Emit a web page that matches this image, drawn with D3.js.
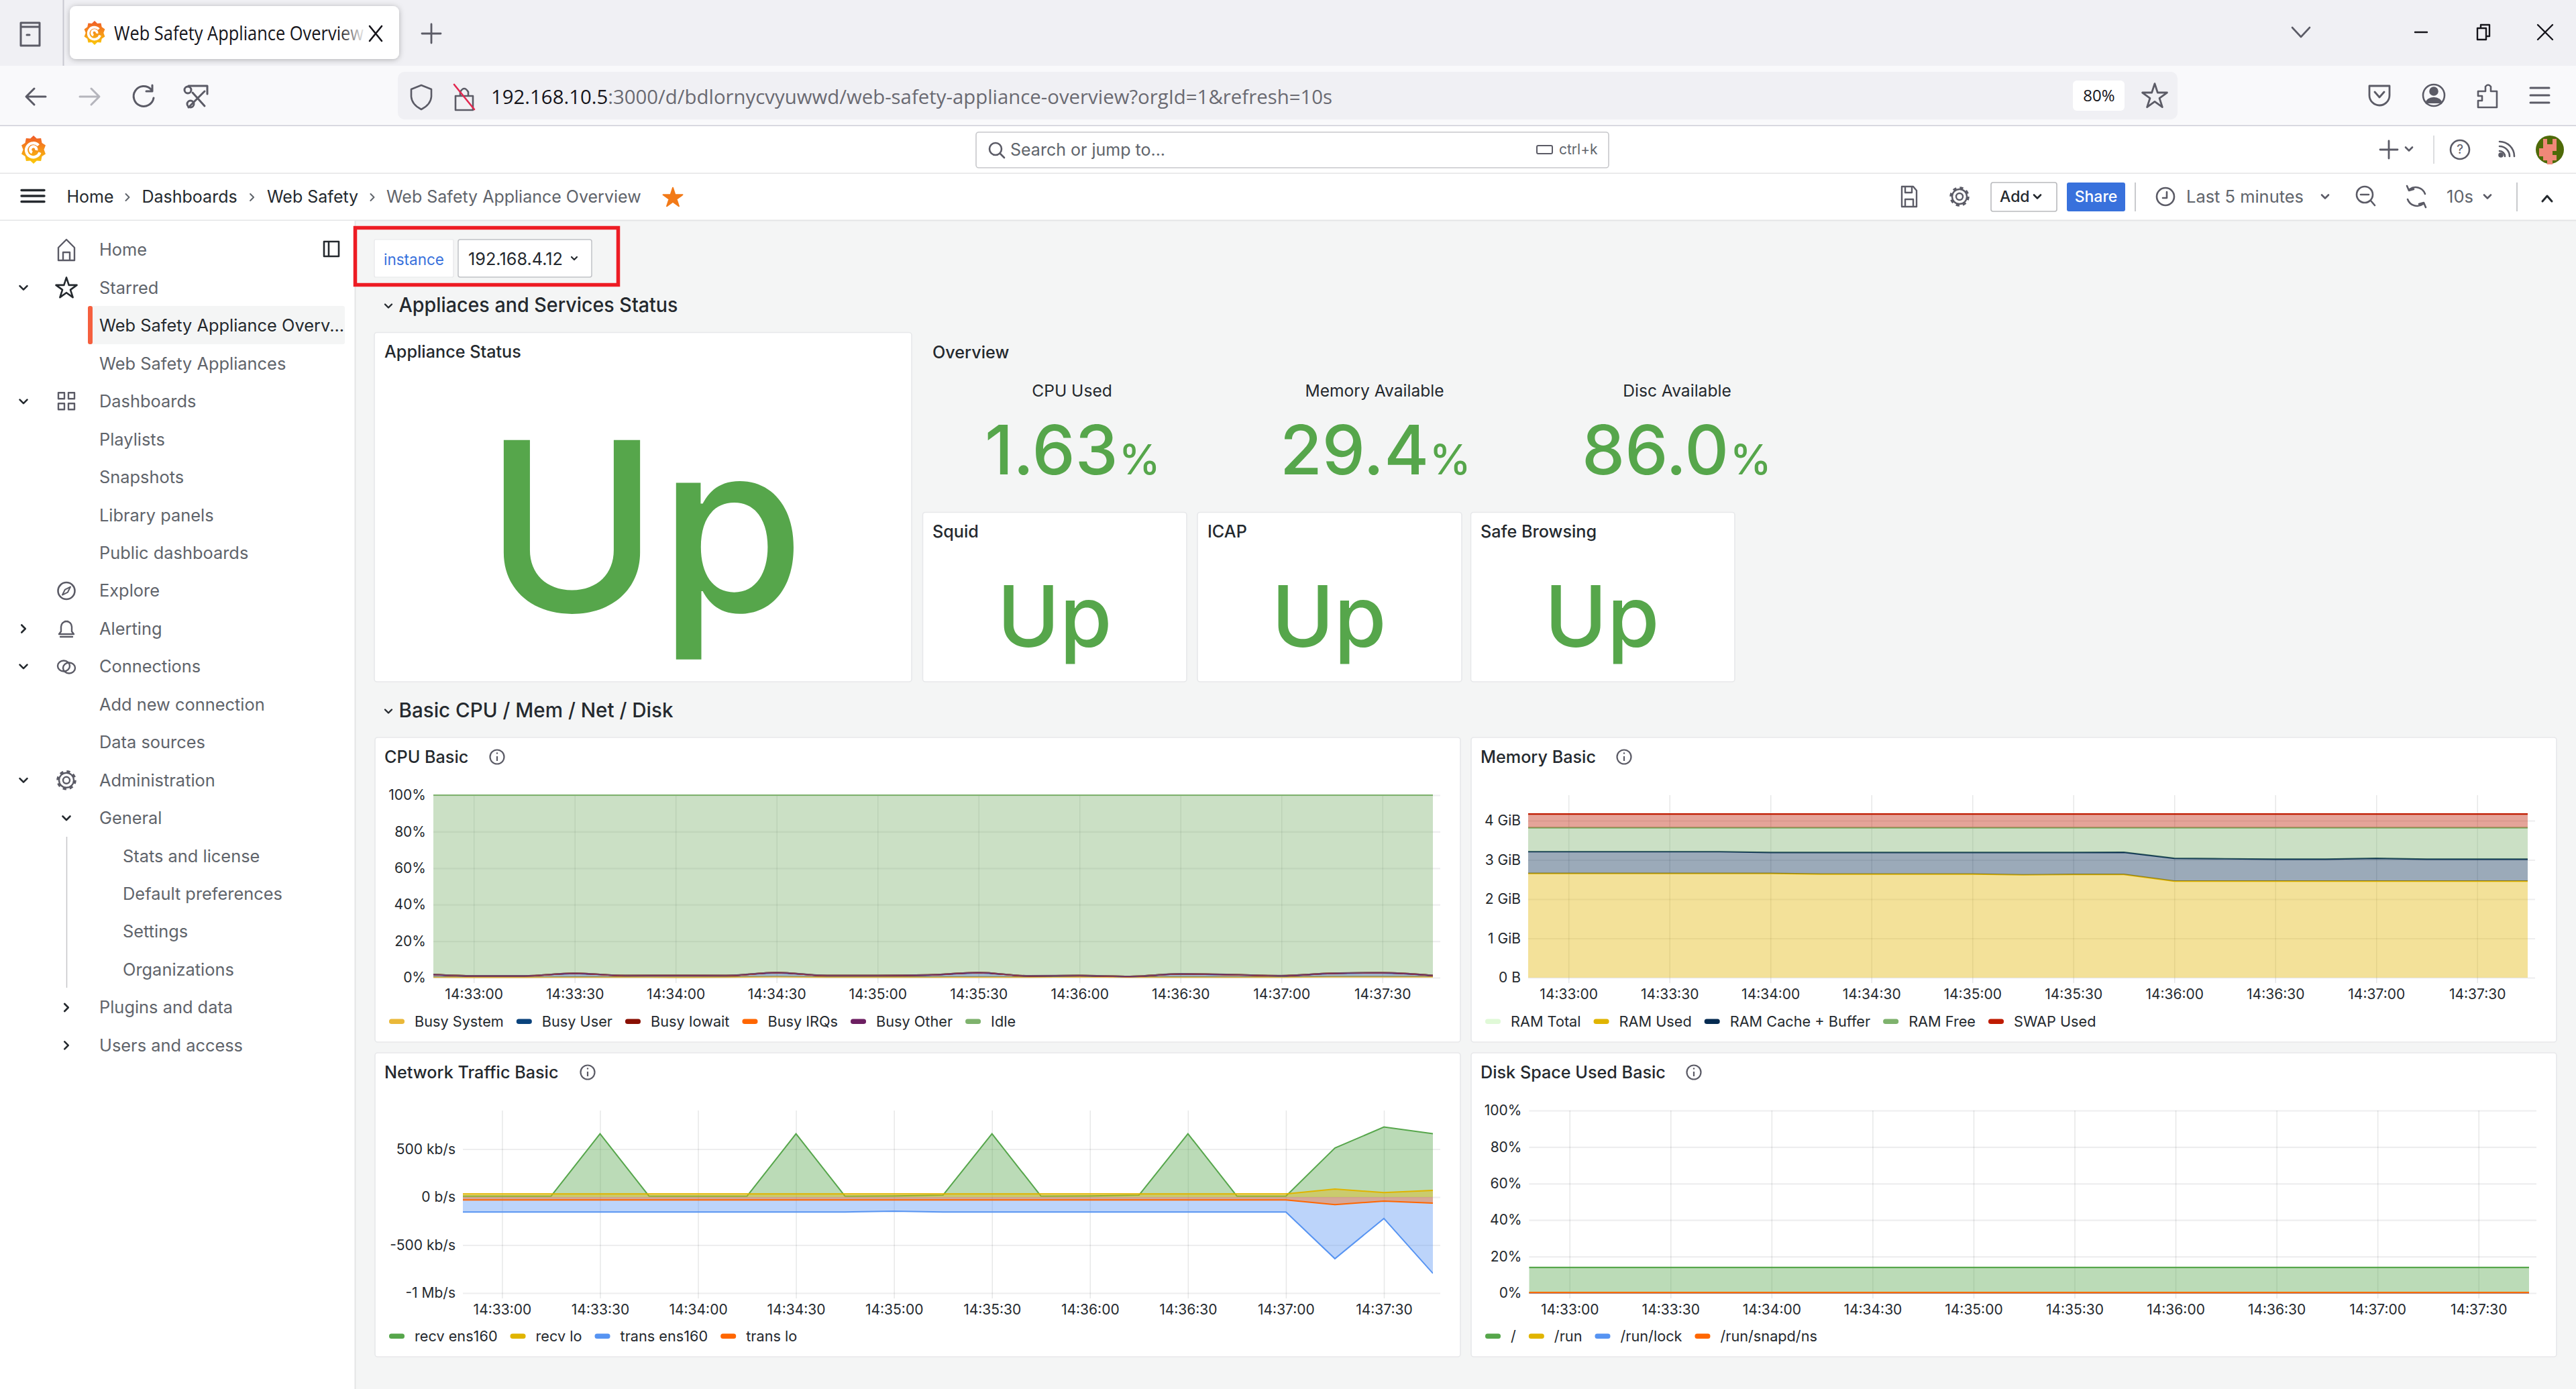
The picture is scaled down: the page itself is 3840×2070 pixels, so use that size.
<!DOCTYPE html>
<html><head><meta charset="utf-8">
<script src="https://cdnjs.cloudflare.com/ajax/libs/d3/7.8.5/d3.min.js"></script>
<style>html,body{margin:0;padding:0;background:#f4f5f5;overflow:hidden}svg{display:block}</style>
</head><body><svg id="c" width="3840" height="2070" viewBox="0 0 3840 2070"></svg>
<script>
// ---------- DATA ----------
const sampleTimes = ["14:32:45","14:33:00","14:33:15","14:33:30","14:33:45","14:34:00","14:34:15","14:34:30","14:34:45","14:35:00","14:35:15","14:35:30","14:35:45","14:36:00","14:36:15","14:36:30","14:36:45","14:37:00","14:37:15","14:37:30","14:37:45"];
const tickLabels = ["14:33:00","14:33:30","14:34:00","14:34:30","14:35:00","14:35:30","14:36:00","14:36:30","14:37:00","14:37:30"];
const domainStart = "14:32:48", domainEnd = "14:37:45";

const cpuSystem = [.3,.25,.25,.3,.3,.25,.3,.55,.3,.3,.3,.35,.3,.45,.3,.3,.3,.3,.5,.5,.5];
const cpuUser   = [1.7,.7,.7,2.04,.84,.9,.84,2.19,.84,.84,1.14,2.39,.64,.69,.34,1.74,1.34,.74,1.84,2.14,.64];
const cpuIowait = [.06,.06,.06,.06,.06,.06,.06,.06,.06,.06,.06,.06,.06,.06,.06,.06,.06,.06,.06,.06,.06];
const cpuIrq    = [.01,.01,.01,.01,.01,.01,.01,.01,.01,.01,.01,.01,.01,.01,.01,.01,.01,.01,.01,.01,.01];
const cpuOther  = [.03,.03,.03,.03,.03,.03,.03,.03,.03,.03,.03,.03,.03,.03,.03,.03,.03,.03,.03,.03,.03];
const cpuIdle   = [97.9,98.95,98.95,97.56,98.76,98.75,98.76,97.16,98.76,98.76,98.46,97.16,98.96,98.76,99.26,97.86,98.26,98.86,97.56,97.26,98.76];
const cpuNames  = ["Busy System","Busy User","Busy Iowait","Busy IRQs","Busy Other","Idle"];
const cpuColors = ["#EAB839","#0A437C","#890F02","#FF6600","#6D1F62","#7EB26D"];
const cpuTicks  = [0,20,40,60,80,100];

const memTotal = [3.82,3.82,3.82,3.82,3.82,3.82,3.82,3.82,3.82,3.82,3.82,3.82,3.82,3.82,3.82,3.82,3.82,3.82,3.82,3.82,3.82];
const memUsed  = [2.655,2.655,2.655,2.655,2.655,2.655,2.64,2.64,2.64,2.64,2.62,2.63,2.63,2.46,2.46,2.46,2.46,2.46,2.46,2.46,2.46];
const memCache = [.555,.555,.555,.555,.555,.535,.55,.55,.55,.55,.57,.56,.565,.58,.57,.56,.56,.58,.56,.56,.56];
const memFree  = [.61,.61,.61,.61,.61,.63,.63,.63,.63,.63,.63,.63,.625,.78,.79,.80,.80,.78,.80,.80,.80];
const memSwap  = [.35,.35,.35,.35,.35,.35,.35,.35,.35,.35,.35,.35,.35,.35,.35,.35,.35,.35,.35,.35,.35];
const memNames = ["RAM Total","RAM Used","RAM Cache + Buffer","RAM Free","SWAP Used"];
const memColors= ["#E0F9D7","#E0B400","#052B51","#7EB26D","#BF1B00"];
const memTicks = [0,1,2,3,4];
const memTickLabels = ["0 B","1 GiB","2 GiB","3 GiB","4 GiB"];

const netRecvEns = [10,10,10,660,10,10,10,660,10,12,20,660,10,12,20,660,10,10,512,730,660];
const netRecvLo  = [33,33,33,33,33,33,33,33,33,33,33,33,33,33,33,33,33,33,84,47,70];
const netTransEns= [-156,-156,-156,-156,-156,-156,-156,-156,-156,-147,-156,-156,-156,-156,-156,-156,-156,-156,-642,-223,-795];
const netTransLo = [-30,-30,-30,-30,-30,-30,-30,-30,-30,-30,-30,-30,-30,-30,-30,-30,-30,-30,-79,-42,-63];
const netNames   = ["recv ens160","recv lo","trans ens160","trans lo"];
const netColors  = ["#56A64B","#E0B400","#5794F2","#FF6600"];
const netTicks   = [-1000,-500,0,500];
const netTickLabels = ["-1 Mb/s","-500 kb/s","0 b/s","500 kb/s"];

const diskRoot = [14.05,14.05,14.05,14.05,14.05,14.05,14.05,14.05,14.05,14.05,14.05,14.05,14.05,14.05,14.05,14.05,14.05,14.05,14.05,14.05,14.05];
const diskRun  = [.2,.2,.2,.2,.2,.2,.2,.2,.2,.2,.2,.2,.2,.2,.2,.2,.2,.2,.2,.2,.2];
const diskLock = [0,0,0,0,0,0,0,0,0,0,0,0,0,0,0,0,0,0,0,0,0];
const diskSnap = [.25,.25,.25,.25,.25,.25,.25,.25,.25,.25,.25,.25,.25,.25,.25,.25,.25,.25,.25,.25,.25];
const diskNames = ["/","/run","/run/lock","/run/snapd/ns"];
const diskColors= ["#56A64B","#E0B400","#5794F2","#FF6600"];

const statLabels = ["CPU Used","Memory Available","Disc Available"];
const statValues = ["1.63","29.4","86.0"];
const serviceNames = ["Squid","ICAP","Safe Browsing"];
const navItems = ["Home","Starred","Web Safety Appliance Overv...","Web Safety Appliances","Dashboards","Playlists","Snapshots","Library panels","Public dashboards","Explore","Alerting","Connections","Add new connection","Data sources","Administration","General","Stats and license","Default preferences","Settings","Organizations","Plugins and data","Users and access"];
const crumbs = ["Home","Dashboards","Web Safety","Web Safety Appliance Overview"];

// ---------- HELPERS ----------
const svg = d3.select("#c");
const defs = svg.append("defs");
const INTER = "Inter, sans-serif", CHROME = "'Open Sans', sans-serif";
const DARK = "#24292e", GRAY = "#5f646b", ICON = "#5b5b66", GREEN = "#56a64b";
function rect(x,y,w,h,fill,o={}){const r=svg.append("rect").attr("x",x).attr("y",y).attr("width",w).attr("height",h).attr("fill",fill).attr("rx",o.rx||0);
  if(o.stroke)r.attr("stroke",o.stroke).attr("stroke-width",o.sw||1.5); if(o.filter)r.attr("filter",o.filter); return r;}
function txt(x,y,s,o={}){const t=svg.append("text").attr("x",x).attr("y",y).text(s).attr("dy",".35em")
  .attr("font-family",o.family||INTER).attr("font-size",o.size||27).attr("font-weight",o.weight||400).attr("fill",o.fill||DARK).attr("text-anchor",o.anchor||"start");
  if(o.len)t.attr("textLength",o.len).attr("lengthAdjust","spacingAndGlyphs"); return t;}
function line(x1,y1,x2,y2,c,w){svg.append("line").attr("x1",x1).attr("y1",y1).attr("x2",x2).attr("y2",y2).attr("stroke",c).attr("stroke-width",w||2);}
function ic(x,y,d,o={}){return svg.append("path").attr("transform",`translate(${x},${y})`).attr("d",d).attr("fill",o.fill||"none").attr("stroke",o.stroke===undefined?ICON:o.stroke).attr("stroke-width",o.sw||2.6).attr("stroke-linecap","round").attr("stroke-linejoin","round");}
function circ(x,y,r,o={}){return svg.append("circle").attr("cx",x).attr("cy",y).attr("r",r).attr("fill",o.fill||"none").attr("stroke",o.stroke===undefined?ICON:o.stroke).attr("stroke-width",o.sw||2.6);}
const chevD=(x,y,s=6,o={})=>ic(x,y,`M${-s} ${-s/2}L0 ${s/2}L${s} ${-s/2}`,o);
const chevR=(x,y,s=6,o={})=>ic(x,y,`M${-s/2} ${-s}L${s/2} 0L${-s/2} ${s}`,o);
const starPath=(size)=>d3.symbol().type(d3.symbolStar).size(size)();
function gear(x,y,c=ICON){circ(x,y,5,{stroke:c,sw:2.4});circ(x,y,11,{stroke:c,sw:2.4});svg.append("circle").attr("cx",x).attr("cy",y).attr("r",13).attr("fill","none").attr("stroke",c).attr("stroke-width",3.5).attr("stroke-dasharray","5.2 5");}
function logo(x,y,s){
  const id="lg"+Math.round(x);
  const g=defs.append("linearGradient").attr("id",id).attr("x1",0).attr("y1",0).attr("x2",0).attr("y2",1);
  g.append("stop").attr("offset",0).attr("stop-color","#f05a28");g.append("stop").attr("offset",1).attr("stop-color","#fbca0a");
  const n=10,pts=d3.range(n*2).map(i=>{const a=Math.PI*i/n,r=(i%2?s*.82:s)*1;return [x+Math.sin(a)*r*.9,y-Math.cos(a)*r];});
  svg.append("path").attr("d",d3.line().curve(d3.curveLinearClosed)(pts)).attr("fill",`url(#${id})`);
  svg.append("path").attr("d",`M${x+s*.35} ${y-s*.3}A${s*.5} ${s*.5} 0 1 0 ${x+s*.45} ${y+s*.2}M${x+s*.2} ${y+s*.05}A${s*.22} ${s*.22} 0 1 0 ${x-s*.1} ${y+s*.2}`).attr("fill","none").attr("stroke","#fff").attr("stroke-width",s*.2);
}

// ---------- BROWSER CHROME ----------
rect(0,0,3840,98,"#f0f0f4");
rect(0,98,3840,90,"#f9f9fb");
line(0,187.5,3840,187.5,"#cfcfd8",2);
line(94.5,0,94.5,98,"#c8c8d0",2);
ic(45,50,"M-14 -10H14V18H-14ZM-14 -10V-16H14V-10M-5 2H-1",{sw:3});
defs.append("filter").attr("id","sh").append("feDropShadow").attr("dx",0).attr("dy",1).attr("stdDeviation",4).attr("flood-color","#000").attr("flood-opacity",.28);
rect(104,9,491,79,"#fff",{rx:9,filter:"url(#sh)"});
logo(141,49,18);
const fade=defs.append("linearGradient").attr("id","fade").attr("gradientUnits","userSpaceOnUse").attr("x1",170).attr("x2",542).attr("y1",0).attr("y2",0);
fade.append("stop").attr("offset",0.9).attr("stop-color","#15141a");fade.append("stop").attr("offset",1).attr("stop-color","#15141a").attr("stop-opacity",0.1);
txt(170,50,"Web Safety Appliance Overview",{family:CHROME,size:29,fill:"url(#fade)",len:372});
ic(560,50,"M-9 -11L9 11M9 -11L-9 11",{stroke:"#15141a",sw:2.6});
ic(643,50,"M0 -14V14M-14 0H14",{sw:2.8});
ic(3430,48,"M-13 -7L0 7L13 -7",{sw:2.6});
ic(3609,48,"M-9 0H9",{stroke:"#15141a",sw:2.4});
ic(3702,48,"M-9 -6H4V11H-9ZM-4 -6V-11H9V6H4",{stroke:"#15141a",sw:2.4});
ic(3794,48,"M-11 -11L11 11M11 -11L-11 11",{stroke:"#15141a",sw:2.4});

ic(54,144,"M14 0H-14M-3 -12L-15 0L-3 12",{sw:3});
ic(133,144,"M-14 0H14M3 -12L15 0L3 12",{stroke:"#b5b5bc",sw:3});
ic(214,144,"M11 -11A15 15 0 1 0 15 2M13 -17V-8H4",{sw:3});
ic(293,144,"M-12 -16H16M16 -16V-4M-12 16L12 -8M12 14L-6 -6",{sw:3});
circ(284,155,5,{sw:3});circ(280,134,5,{sw:3});
rect(593,107,2653,71,"#f0f0f4",{rx:10});
ic(628,144,"M0 -17L15 -11V0Q14 12 0 19Q-14 12 -15 0V-11Z",{sw:2.6});
ic(692,149,"M-13 -6H13V15H-13ZM-6 -6V-12Q0 -22 6 -12V-6",{sw:2.6});
ic(692,144,"M-15 -18L15 19",{stroke:"#e22850",sw:2.6});
const url=txt(732,144,"",{family:CHROME,size:30,len:1254,fill:"#15141a"});
url.append("tspan").text("192.168.10.5");
url.append("tspan").attr("fill","#6a6a72").text(":3000/d/bdlornycvyuwwd/web-safety-appliance-overview?orgId=1&refresh=10s");
rect(3090,120,77,45,"#fff",{rx:6});
txt(3129,143,"80%",{family:CHROME,size:24,anchor:"middle",fill:"#15141a"});
ic(3212,144,starPath(420),{sw:2.8});
ic(3547,142,"M-15 -14H15V0A15 15 0 0 1 -15 0ZM-7 -5L0 3L7 -5",{sw:2.8});
circ(3628,142,16);circ(3628,136,5.5,{fill:ICON});ic(3628,142,"M-11 12A11 8 0 0 1 11 12",{fill:ICON,stroke:ICON});
ic(3708,144,"M-14 -8H-3V-15Q1 -20 5 -15V-8H14V16H-14V6H-8V-1H-14Z",{sw:2.6});
ic(3786,142,"M-14 -11H14M-14 0H14M-14 11H14",{sw:3});

// ---------- GRAFANA BARS ----------
rect(0,188,3840,70,"#fff");
line(0,258.5,3840,258.5,"#e4e5e6",2);
rect(0,259,3840,69,"#fff");
line(0,328.5,3840,328.5,"#e4e5e6",2);
rect(0,329,529,1741,"#fff");
line(529.5,329,529.5,2070,"#e4e5e6",2);
logo(50,223,21);
rect(1455,197,943,53,"#fff",{rx:4,stroke:"#c7c8cb",sw:1.6});
circ(1484,222,9);ic(1484,222,"M7 7L13 13");
txt(1506,223,"Search or jump to...",{size:25,fill:"#60656c"});
rect(2291,217,23,12,"none",{rx:2,stroke:ICON,sw:2});
txt(2324,223,"ctrl+k",{size:21,fill:"#60656c"});
ic(3561,223,"M0 -13V13M-13 0H13",{sw:2.8});chevD(3591,222,5);
line(3628,202,3628,244,"#dcdde0",2);
circ(3667,223,14);txt(3667,222,"?",{size:19,fill:ICON,anchor:"middle"});
ic(3726,233,"M0 -8A8 8 0 0 1 8 0M0 -15A15 15 0 0 1 15 0M0 -22A22 22 0 0 1 22 0");circ(3728,231,2.5,{fill:ICON});
circ(3801,223,21,{fill:"#4e6a08",stroke:"none"});
svg.append("path").attr("d","M3791 207h6v8h8v-8h6v18h-6v6h6v8h-6v6h-8v-6h-6v-6h-6v-12h6z").attr("fill","#f08878");

ic(49,292,"M-17 -8.5H17M-17 0H17M-17 8.5H17",{stroke:DARK,sw:3.4});
const crumbX=[99.5,211.5,398,576];
crumbs.forEach((c,i)=>{txt(crumbX[i],293,c,{size:25,fill:i==3?GRAY:DARK}); if(i<3)chevR([190,375.6,555][i],294,5,{stroke:GRAY,sw:2});});
ic(1003,295,starPath(260),{fill:"#f27a18",stroke:"#f27a18",sw:2});

ic(2846,293,"M-11 -15H6L11 -9V15H-11ZM-6 -15V-6H4V-15M-6 15V4H6V15",{sw:2.4});
gear(2921,293);
rect(2968,272,98,43,"#fff",{rx:3,stroke:"#b9babd",sw:1.6});
txt(2981,293,"Add",{size:23,weight:500});chevD(3037,293,5,{stroke:DARK});
rect(3081,272,87,43,"#3871dc",{rx:3});
txt(3124.5,293,"Share",{size:23,weight:500,fill:"#fff",anchor:"middle"});
line(3183,272,3183,315,"#c9cacd",2);
circ(3228,293,13);ic(3228,293,"M2 -7V2H-4");
txt(3259,293,"Last 5 minutes",{size:25,fill:GRAY,len:175});chevD(3466,293,5);
circ(3525,290,12);ic(3525,290,"M-6 0H6M9 9L15 16");
ic(3602,293,"M-10 -11A15 15 0 0 1 13 -4M10 11A15 15 0 0 1 -13 4M-14 -16L-11 -9L-4 -11M14 16L11 9L4 11");
txt(3647,293,"10s",{size:25,fill:GRAY,len:40});chevD(3708,293,5);
line(3752,272,3752,315,"#c9cacd",2);
ic(3797,296,"M-7 4L0 -4L7 4",{stroke:DARK,sw:3});

// ---------- SIDEBAR ----------
const navY=i=>372.5+56.45*i;
rect(131,456,383,57,"#f4f5f5",{rx:3});
rect(131,456,7,57,"#f55f3e",{rx:3});
navItems.forEach((t,i)=>txt(i>=16&&i<=19?183:148,navY(i),t,{size:25.4,fill:i==2?DARK:GRAY}));
ic(99,373,"M-12 -4L0 -16L12 -4V15H-12ZM-5 15V3H5V15",{sw:2.4});
ic(99,navY(1)+1,starPath(300),{stroke:DARK,sw:2.6});
ic(99,navY(4),"M-12 -13H-3V-4H-12ZM3 -13H12V-4H3ZM-12 3H-3V12H-12ZM3 3H12V12H3Z",{sw:2.4});
circ(99,navY(9),12.5);ic(99,navY(9),"M6 -6L2 2L-6 6L-2 -2Z",{sw:2});
ic(99,navY(10),"M-8 4V-3A8 8 0 0 1 8 -3V4L11 8H-11ZM-9 12H9M-2 -11H2",{sw:2.4});
svg.append("ellipse").attr("cx",95).attr("cy",navY(11)-1).attr("rx",9).attr("ry",8).attr("fill","none").attr("stroke",ICON).attr("stroke-width",2.4);
svg.append("ellipse").attr("cx",103).attr("cy",navY(11)+2).attr("rx",9).attr("ry",8).attr("fill","none").attr("stroke",ICON).attr("stroke-width",2.4);
gear(99,navY(14));
[1,4,11,14].forEach(i=>chevD(35,navY(i),5.5,{stroke:DARK}));
chevR(35,navY(10),5.5,{stroke:DARK});
chevD(99,navY(15),5.5,{stroke:DARK});
[20,21].forEach(i=>chevR(99,navY(i),5.5,{stroke:DARK}));
line(99.5,1247,99.5,1472,"#c4c5c8",1.5);
ic(494,371,"M-11 -11H11V11H-11ZM-4 -11V11",{stroke:DARK,sw:2.6});

// ---------- TEMPLATE VARIABLE ----------
rect(558,357,118,56,"#fff",{rx:2,stroke:"#e6e7e9",sw:1.2});
txt(617,387,"instance",{size:22.5,fill:"#3871dc",anchor:"middle"});
rect(683,357,199,56,"#fff",{rx:3,stroke:"#c0c2c6",sw:1.5});
txt(698,386,"192.168.4.12",{size:26,len:141});
chevD(856,385,4,{stroke:DARK,sw:2.2});
rect(529.5,339.5,392,85,"none",{stroke:"#ed1c24",sw:5.5});
chevD(579,456,5,{stroke:DARK,sw:2.4});
txt(594.5,454,"Appliaces and Services Status",{size:30,weight:500,len:416});
chevD(579,1060,5,{stroke:DARK,sw:2.4});
txt(594.5,1058,"Basic CPU / Mem / Net / Disk",{size:30,weight:500,len:409});

// ---------- STAT PANELS ----------
const panelStroke="#e7e8ea";
function panel(x0,y0,x1,y1,title,tx,ty){rect(x0,y0,x1-x0,y1-y0,"#fff",{rx:4,stroke:panelStroke,sw:1.6});txt(tx,ty,title,{size:25.2,weight:500});}
panel(558,495.5,1359,1016,"Appliance Status",573,524);
txt(961,911,"Up",{size:351,weight:500,fill:GREEN,anchor:"middle"}).attr("dy",0);
txt(1390,525,"Overview",{size:25.2,weight:500});
const statCx=[1598,2049,2500], numX=[1468,1908,2358], pctX=[1668,2131,2579];
statLabels.forEach((s,i)=>{
  txt(statCx[i],582.5,s,{size:24.6,anchor:"middle"});
  txt(numX[i],707,statValues[i],{size:102,weight:500,fill:GREEN}).attr("dy",0);
  txt(pctX[i],707,"%",{size:62,weight:500,fill:GREEN}).attr("dy",0);
});
const svcX=[[1375.5,1769,1390,1572],[1785,2179,1800,1981],[2192.5,2586,2207,2388]];
serviceNames.forEach((s,i)=>{const b=svcX[i];
  panel(b[0],763.5,b[1],1016,s,b[2],792.5);
  txt(b[3],963.5,"Up",{size:126,weight:500,fill:GREEN,anchor:"middle"}).attr("dy",0);
});

// ---------- TIME SERIES ----------
const parseT=d3.timeParse("%H:%M:%S"), fmtT=d3.timeFormat("%H:%M:%S");
const times=sampleTimes.map(parseT), tickTimes=tickLabels.map(parseT);
let clipId=0;
function tsPanel(o){
  const {box,plot,title,infoX,names,colors}=o;
  panel(box[0],box[1],box[2],box[3],title,box[0]+14,box[1]+29);
  circ(infoX,box[1]+29,10.5,{stroke:ICON,sw:2.2});
  line(infoX,box[1]+28,infoX,box[1]+35,ICON,2.2);circ(infoX,box[1]+23.5,1.2,{fill:ICON,stroke:"none"});
  const [l,t,r,b]=plot;
  const x=d3.scaleTime().domain([parseT(domainStart),parseT(domainEnd)]).range([l,r]);
  const y=d3.scaleLinear().domain(o.yDomain).range([b,t]);
  const g=svg.append("g");
  const ax=g.append("g").attr("transform",`translate(0,${b+8})`).call(d3.axisBottom(x).tickValues(tickTimes).tickFormat(fmtT).tickSizeInner(-(b+8-t)).tickSizeOuter(0));
  ax.select(".domain").remove();
  ax.selectAll("line").attr("stroke","rgba(36,41,46,.11)").attr("stroke-width",1.5);
  ax.selectAll("text").attr("y",17).attr("dy",".35em").attr("font-family",INTER).attr("font-size",21).attr("fill",DARK);
  const ay=g.append("g").attr("transform",`translate(${l},0)`).call(d3.axisLeft(y).tickValues(o.yTicks).tickFormat((d,i)=>o.yLabels[i]).tickSizeInner(-(r-l+11)).tickSizeOuter(0).tickPadding(11));
  ay.select(".domain").remove();
  ay.selectAll("line").attr("stroke","rgba(36,41,46,.08)").attr("stroke-width",2.2);
  ay.selectAll("text").attr("font-family",INTER).attr("font-size",21).attr("fill",DARK);
  const id="clip"+(clipId++);
  defs.append("clipPath").attr("id",id).append("rect").attr("x",l).attr("y",t-3).attr("width",r-l).attr("height",b-t+6);
  const m=svg.append("g").attr("clip-path",`url(#${id})`);
  const curve=o.curve||d3.curveLinear;
  o.layers.forEach((ly,k)=>{
    const idx=d3.range(times.length);
    if(!ly.noFill)m.append("path").attr("d",d3.area().curve(curve).x(i=>x(times[i])).y0(i=>y(ly.y0?ly.y0[i]:0)).y1(i=>y(ly.y1[i]))(idx)).attr("fill",colors[ly.c]).attr("fill-opacity",.4);
    m.append("path").attr("d",d3.line().curve(curve).x(i=>x(times[i])).y(i=>y(ly.y1[i]))(idx)).attr("fill","none").attr("stroke",colors[ly.c]).attr("stroke-width",o.lw||2);
  });
  let lx=box[0]+21;const ly=box[3]-31;
  names.forEach((n,i)=>{
    rect(lx,ly-3.5,23,7.5,colors[i],{rx:3.5});
    const tx=txt(lx+38,ly,n,{size:21.7});
    lx+=38+tx.node().getComputedTextLength()+19;
  });
}
function stacked(rows){const st=d3.stack().keys(d3.range(rows.length)).value((d,k)=>rows[k][d])(d3.range(times.length));
  return st.map(s=>({y0:s.map(d=>d[0]),y1:s.map(d=>d[1])}));}

const cpuS=stacked([cpuSystem,cpuUser,cpuIowait,cpuIrq,cpuOther,cpuIdle]);
tsPanel({box:[559,1099,2177,1553],plot:[646,1185,2136,1457],title:"CPU Basic",infoX:741,names:cpuNames,colors:cpuColors,
  yDomain:[0,100],yTicks:cpuTicks,yLabels:cpuTicks.map(d=>d+"%"),curve:d3.curveMonotoneX,lw:2.2,
  layers:cpuS.map((s,i)=>({...s,c:i}))});
const memS=stacked([memUsed,memCache,memFree,memSwap]);
tsPanel({box:[2193,1099,3811,1553],plot:[2278,1185,3768,1457],title:"Memory Basic",infoX:2421,names:memNames,colors:memColors,
  yDomain:[0,4.65],yTicks:memTicks,yLabels:memTickLabels,lw:2.2,
  layers:[{y1:memTotal,c:0,noFill:true},...memS.map((s,i)=>({...s,c:i+1}))]});
tsPanel({box:[559,1569,2177,2022],plot:[690,1655,2136,1927],title:"Network Traffic Basic",infoX:876,names:netNames,colors:netColors,
  yDomain:[-1000,902],yTicks:netTicks,yLabels:netTickLabels,lw:2,
  layers:[{y1:netRecvEns,c:0},{y1:netRecvLo,c:1},{y1:netTransEns,c:2},{y1:netTransLo,c:3}]});
tsPanel({box:[2193,1569,3811,2022],plot:[2279.5,1655,3770,1927],title:"Disk Space Used Basic",infoX:2525,names:diskNames,colors:diskColors,
  yDomain:[0,100],yTicks:cpuTicks,yLabels:cpuTicks.map(d=>d+"%"),lw:2.2,
  layers:[{y1:diskRoot,c:0},{y1:diskRun,c:1},{y1:diskLock,c:2},{y1:diskSnap,c:3}]});
</script></body></html>
